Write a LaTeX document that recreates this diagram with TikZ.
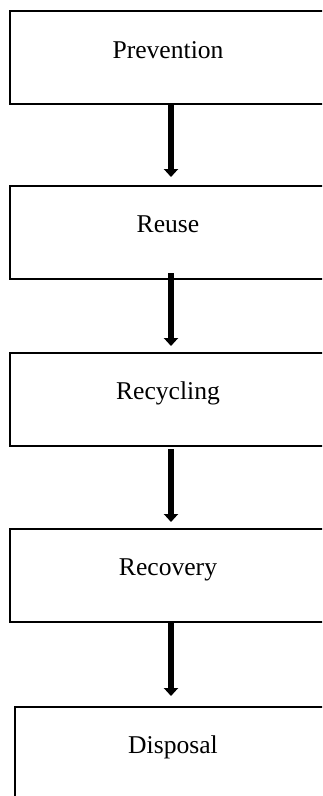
\documentclass[tikz,border=0pt]{standalone}
\usepackage{fontspec}
\setmainfont{Liberation Serif}
\usetikzlibrary{arrows.meta}
\begin{document}
\begin{tikzpicture}[x=1pt,y=-1pt,
  stagebox/.style={draw=black,line width=2pt,rectangle,minimum width=316pt,minimum height=93pt,inner sep=0pt},
  lbl/.style={font=\fontsize{25.6}{28}\selectfont,anchor=base,inner sep=0pt},
  flow/.style={line width=6pt,-{Triangle[width=14pt,length=8pt]}}]
\useasboundingbox (0,0) rectangle (322,796);
\clip (0,0) rectangle (322,796);
\node[stagebox] (p) at (168,57.5) {};
\node[lbl] (pt) at (168,58) {Prevention};
\node[stagebox] (r) at (168,232.5) {};
\node[lbl] (rt) at (168,232) {Reuse};
\node[stagebox] (c) at (168,399.5) {};
\node[lbl] (ct) at (168,399) {Recycling};
\node[stagebox] (v) at (168,575.5) {};
\node[lbl] (vt) at (168,575) {Recovery};
\node[stagebox,minimum height=120pt] (d) at (173,767) {};
\node[lbl] (dt) at (173,753) {Disposal};
\coordinate (x) at (171,0);
\draw[flow] (p.south -| x) -- ([yshift=8pt]r.north -| x);
\draw[flow] ([yshift=7pt]r.south -| x) -- ([yshift=6pt]c.north -| x);
\draw[flow] ([yshift=-2pt]c.south -| x) -- ([yshift=6pt]v.north -| x);
\draw[flow] (v.south -| x) -- ([yshift=10pt]d.north -| x);
\end{tikzpicture}
\end{document}
